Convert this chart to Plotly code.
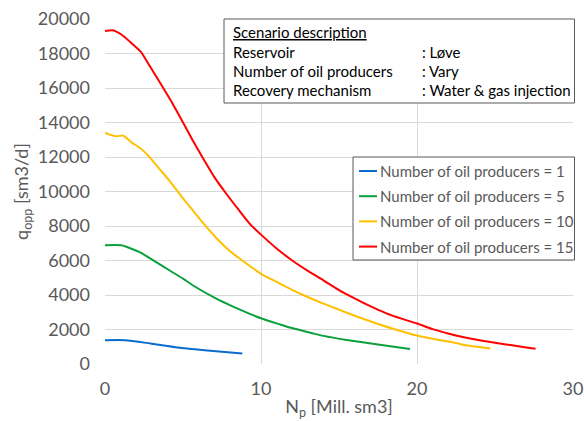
import plotly.graph_objects as go

# Cumulative oil production Np [Mill. sm3] vs. plateau rate q_opp [sm3/d]
np_1 = [0, 1.3, 2.9, 4.8, 6.75, 8.8]
q_1 = [1380, 1380, 1190, 940, 770, 615]

np_5 = [0, 1.05, 2.25, 3.2, 4.15, 5.0, 5.65, 6.95, 7.8, 8.65, 10, 11.2, 11.86,
        13.35, 14, 15.5, 17.5, 19.55]
q_5 = [6880, 6880, 6470, 5950, 5420, 4950, 4550, 3880, 3500, 3150, 2650, 2300, 2115,
       1770, 1630, 1390, 1130, 870]

np_10 = [0, 0.75, 1.15, 1.7, 2.35, 2.9, 3.5, 4.2, 5.0, 5.5, 6.5, 7.2, 8.0, 8.8, 10,
         11, 12, 12.7, 14, 15, 16, 17, 18, 19, 20, 21, 22, 22.8, 23.0, 24, 24.7]
q_10 = [13400, 13200, 13250, 12850, 12450, 11950, 11300, 10550, 9600, 9050, 7950,
        7250, 6550, 6000, 5230, 4760, 4300, 4000, 3500, 3150, 2800, 2480, 2170, 1900,
        1650, 1460, 1300, 1150, 1100, 980, 905]

np_15 = [0, 0.5, 1.05, 1.7, 2.3, 2.9, 3.5, 4.2, 5.0, 5.6, 6.3, 7.0, 7.8, 8.6, 9.3,
         10, 11, 12, 13, 14, 15, 16, 17, 18, 19, 20, 21, 22, 23, 24, 25, 26, 27, 27.6]
q_15 = [19300, 19350, 19100, 18600, 18100, 17230, 16350, 15300, 14000, 13000, 11900,
        10850, 9840, 8900, 8110, 7500, 6700, 6000, 5400, 4850, 4280, 3800, 3350, 2950,
        2630, 2350, 2020, 1770, 1550, 1380, 1230, 1100, 960, 880]

series = [
    ("Number of oil producers = 1", np_1, q_1, "#0a6ccf"),
    ("Number of oil producers = 5", np_5, q_5, "#0aa03c"),
    ("Number of oil producers = 10", np_10, q_10, "#ffc000"),
    ("Number of oil producers = 15", np_15, q_15, "#ff0000"),
]

x_ticks = [0, 10, 20, 30]
y_ticks = list(range(0, 20001, 2000))

scenario_rows = [
    ("Reservoir", ": Løve"),
    ("Number of oil producers", ": Vary"),
    ("Recovery mechanism", ": Water & gas injection"),
]

FONT = "Lato"
GREY = "#595959"
BOX_FONT = 15

# plot-area geometry in pixels (used for the boxed legend and the description box)
W, H = 584, 421
ML, MR, MT, MB = 105, 11, 19, 57
PW, PH = W - ML - MR, H - MT - MB


def px(xp):
    return (xp - ML) / PW


def py(yp):
    return (H - MB - yp) / PH


fig = go.Figure()
for name, xs, ys, color in series:
    fig.add_trace(go.Scatter(x=xs, y=ys, mode="lines", name=name, showlegend=False,
                             line=dict(color=color, width=2, shape="spline", smoothing=0.6)))

fig.update_layout(
    width=W, height=H,
    margin=dict(l=ML, r=MR, t=MT, b=MB),
    paper_bgcolor="white", plot_bgcolor="white",
    font=dict(family=FONT, color=GREY, size=BOX_FONT),
    showlegend=False,
)

fig.update_xaxes(
    range=[0, 30], tickvals=x_ticks, ticktext=[str(v) for v in x_ticks],
    showgrid=True, gridcolor="#d9d9d9", gridwidth=1,
    zeroline=False, showline=False, automargin=False,
    tickfont=dict(size=18, color=GREY), ticklabelstandoff=12,
    title=dict(text="N<sub>p</sub> [Mill. sm3]", font=dict(size=18, color=GREY), standoff=2),
)
fig.update_yaxes(
    range=[0, 20000], tickvals=y_ticks, ticktext=[str(v) for v in y_ticks],
    showgrid=True, gridcolor="#d9d9d9", gridwidth=1,
    zeroline=False, showline=False, automargin=False,
    tickfont=dict(size=18, color=GREY), ticklabelstandoff=14,
    title=dict(text="q<sub>opp</sub> [sm3/d]", font=dict(size=18, color=GREY), standoff=4),
)

# Scenario description box
fig.add_shape(type="rect", xref="paper", yref="paper",
              x0=px(224), x1=px(574.5), y0=py(103), y1=py(19),
              line=dict(color=GREY, width=1), fillcolor="white", layer="above")

fig.add_annotation(xref="paper", yref="paper", x=px(231), y=py(32),
                   xanchor="left", yanchor="middle", showarrow=False,
                   text="<u>Scenario description</u>",
                   font=dict(family=FONT, size=BOX_FONT, color="#000000"))
for i, (label, value) in enumerate(scenario_rows):
    yy = py(52 + 19 * i)
    fig.add_annotation(xref="paper", yref="paper", x=px(231), y=yy,
                       xanchor="left", yanchor="middle", showarrow=False,
                       text=label, font=dict(family=FONT, size=BOX_FONT, color="#000000"))
    fig.add_annotation(xref="paper", yref="paper", x=px(420), y=yy,
                       xanchor="left", yanchor="middle", showarrow=False,
                       text=value, font=dict(family=FONT, size=BOX_FONT, color="#000000"))

# Boxed legend
fig.add_shape(type="rect", xref="paper", yref="paper",
              x0=px(353), x1=px(574.5), y0=py(260), y1=py(157),
              line=dict(color=GREY, width=1), fillcolor="white", layer="above")
for i, (name, _, _, color) in enumerate(series):
    yc = 171 + 25.2 * i
    fig.add_shape(type="line", xref="paper", yref="paper",
                  x0=px(359), x1=px(377), y0=py(yc), y1=py(yc),
                  line=dict(color=color, width=2), layer="above")
    fig.add_annotation(xref="paper", yref="paper", x=px(378), y=py(yc),
                       xanchor="left", yanchor="middle", showarrow=False,
                       text=name, font=dict(family=FONT, size=BOX_FONT, color=GREY))

fig.write_html("out.html")
